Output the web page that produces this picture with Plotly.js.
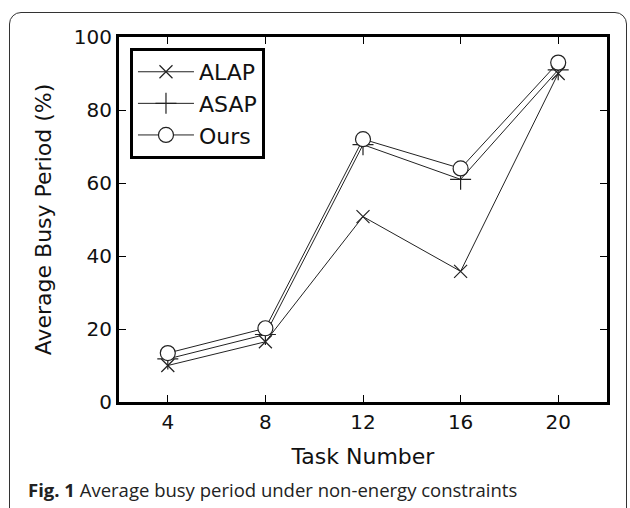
<!DOCTYPE html>
<html>
<head>
<meta charset="utf-8">
<script src="https://cdn.plot.ly/plotly-3.0.1.min.js"></script>
<style>
html,body{margin:0;padding:0;background:#fff;}
#wrap{position:relative;width:630px;height:508px;overflow:hidden;}
#frame{position:absolute;left:9px;top:12px;width:618px;height:600px;border:1.5px solid #333;border-radius:12px;box-sizing:border-box;}
#chart{position:absolute;left:0;top:0;width:630px;height:508px;}
</style>
</head>
<body>
<div id="wrap">
<div id="frame"></div>
<div id="chart"></div>
</div>
<script>
const taskNumbers = [4, 8, 12, 16, 20];
const alap = [10, 16.5, 50.8, 35.8, 90];
const asap = [11.8, 18.5, 70.5, 61, 91];
const ours = [13.4, 20.2, 72, 64, 93];
const seriesNames = ['ALAP', 'ASAP', 'Ours'];
const yTicks = [0, 20, 40, 60, 80, 100];
const caption = '<b>Fig. 1</b> Average busy period under non-energy constraints';

const lineStyle = {color: '#222', width: 1};
const traces = [
  {x: taskNumbers, y: alap, name: seriesNames[0], mode: 'lines+markers', line: lineStyle,
   marker: {symbol: 'x-thin-open', size: 13, line: {color: '#222', width: 1.2}, color: '#222'}},
  {x: taskNumbers, y: asap, name: seriesNames[1], mode: 'lines+markers', line: lineStyle,
   marker: {symbol: 'cross-thin-open', size: 15, line: {color: '#222', width: 1.2}, color: '#222'}},
  {x: taskNumbers, y: ours, name: seriesNames[2], mode: 'lines+markers', line: lineStyle,
   marker: {symbol: 'circle', size: 15, color: '#fff', line: {color: '#222', width: 1.2}}}
];

const axisFont = {family: 'DejaVu Sans', size: 20, color: '#111'};
const titleFont = {family: 'DejaVu Sans', size: 22, color: '#111'};
const layout = {
  width: 630, height: 508,
  margin: {l: 119, r: 23, t: 37, b: 106},
  paper_bgcolor: 'rgba(0,0,0,0)',
  plot_bgcolor: '#fff',
  showlegend: true,
  xaxis: {
    range: [2, 22], tickvals: taskNumbers, ticktext: taskNumbers.map(String),
    showgrid: false, zeroline: false, showline: true, linewidth: 3, linecolor: '#000', mirror: 'ticks',
    ticks: 'inside', ticklen: 7, tickwidth: 1, tickcolor: '#000',
    tickfont: axisFont,
    title: {text: 'Task Number', font: titleFont, standoff: 16}
  },
  yaxis: {
    range: [0, 100], tickvals: yTicks,
    showgrid: false, zeroline: false, showline: true, linewidth: 3, linecolor: '#000', mirror: 'ticks',
    ticks: 'inside', ticklen: 7, tickwidth: 1, tickcolor: '#000',
    tickfont: axisFont,
    title: {text: 'Average Busy Period (%)', font: titleFont, standoff: 17}
  },
  legend: {
    x: 0.0225, y: 0.97, xanchor: 'left', yanchor: 'top',
    bgcolor: '#fff', bordercolor: '#000', borderwidth: 3,
    font: {family: 'DejaVu Sans', size: 22, color: '#111'},
    tracegroupgap: 0, itemwidth: 56
  },
  annotations: [{
    text: caption, xref: 'paper', yref: 'paper', x: -0.1906, y: -0.241,
    xanchor: 'left', yanchor: 'middle', showarrow: false,
    font: {family: 'Open Sans', size: 18.5, color: '#222'}
  }]
};

Plotly.newPlot('chart', traces, layout, {displayModeBar: false, staticPlot: true});
</script>
</body>
</html>
